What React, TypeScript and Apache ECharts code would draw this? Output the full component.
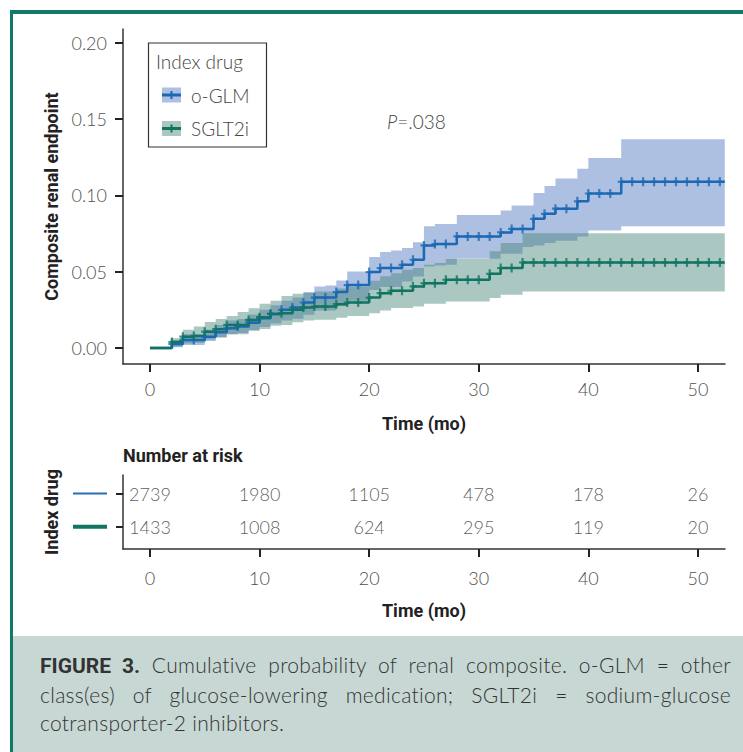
import React, { useEffect, useRef } from "react";
import * as echarts from "echarts";

// ---------- data ----------
const monthTicks = [0, 10, 20, 30, 40, 50];
const probTicks = [0, 0.05, 0.1, 0.15, 0.2];

// o-GLM cumulative probability (step times in months)
const blueTimes = [0, 2, 3, 5, 6, 7, 8, 9, 10, 11, 12, 13, 14, 15, 17, 18, 20, 21, 23, 24, 25, 26, 28, 32, 33, 35, 36, 37, 39, 40, 43];
const blueValues = [0, 0.0026, 0.0053, 0.0074, 0.0103, 0.0129, 0.014, 0.0166, 0.0195, 0.0223, 0.025, 0.0265, 0.0298, 0.033, 0.0366, 0.0412, 0.0497, 0.0524, 0.0545, 0.0578, 0.0672, 0.0681, 0.0731, 0.0757, 0.078, 0.0846, 0.0879, 0.0913, 0.0961, 0.1012, 0.1089];

// SGLT2i
const greenTimes = [0, 2, 3, 4, 5, 6, 7, 9, 10, 11, 12, 13, 14, 15, 17, 18, 20, 21, 22, 24, 25, 27, 31, 32, 34];
const greenValues = [0, 0.0039, 0.0074, 0.0079, 0.0107, 0.0123, 0.0151, 0.0184, 0.0202, 0.0223, 0.0228, 0.025, 0.0265, 0.0271, 0.0287, 0.0298, 0.033, 0.0359, 0.0375, 0.0403, 0.0424, 0.0447, 0.0486, 0.0524, 0.056];

// confidence bands (step functions)
const blueBandTimes = [0, 2, 3, 5, 6, 7, 8, 9, 10, 11, 12, 13, 14, 15, 16, 17, 18, 20, 21, 22, 23, 24, 25, 26, 27, 28, 31, 32, 33, 34, 35, 36, 37, 39, 40, 43];
const blueUpper = [0, 0.005, 0.009, 0.012, 0.015, 0.018, 0.019, 0.022, 0.025, 0.028, 0.031, 0.033, 0.0366, 0.0403, 0.041, 0.0442, 0.0501, 0.0596, 0.0629, 0.0639, 0.0655, 0.0692, 0.0797, 0.0813, 0.0813, 0.0872, 0.0872, 0.09, 0.0933, 0.0933, 0.1016, 0.1062, 0.111, 0.1174, 0.1244, 0.1367];
const blueLower = [0, 0.0005, 0.002, 0.0045, 0.0068, 0.009, 0.0098, 0.0115, 0.0138, 0.016, 0.018, 0.0192, 0.0218, 0.0245, 0.0245, 0.0275, 0.031, 0.038, 0.04, 0.04, 0.0436, 0.0469, 0.0534, 0.054, 0.0545, 0.0585, 0.0585, 0.0618, 0.0618, 0.0662, 0.0672, 0.0688, 0.0703, 0.0731, 0.0769, 0.0797];

const greenBandTimes = [0, 2, 3, 4, 5, 6, 7, 8, 9, 10, 11, 12, 13, 14, 15, 17, 18, 20, 21, 22, 23, 24, 25, 26, 27, 31, 32, 34];
const greenUpper = [0, 0.0064, 0.012, 0.014, 0.017, 0.019, 0.021, 0.0235, 0.026, 0.029, 0.0309, 0.034, 0.0355, 0.036, 0.037, 0.039, 0.04, 0.044, 0.047, 0.049, 0.0512, 0.0524, 0.0545, 0.0556, 0.0583, 0.0633, 0.0688, 0.0752];
const greenLower = [0, 0.001, 0.003, 0.0035, 0.0055, 0.007, 0.009, 0.009, 0.0115, 0.0125, 0.0145, 0.015, 0.0168, 0.018, 0.0185, 0.0198, 0.021, 0.0228, 0.0245, 0.0262, 0.0262, 0.0272, 0.029, 0.029, 0.0305, 0.0327, 0.0348, 0.037];

// censoring marks (months)
const censorTimes = [2, 3, 4, 5, 6, 7, 8, 9, 10, 11, 12, 13, 14, 15, 16, 17, 18, 19, 20, 21, 22, 23, 24, 25, 26, 27, 28, 29, 30, 31, 32, 33, 34, 35, 36, 37, 38, 39, 40, 41, 42, 43, 44, 45, 46, 47, 48, 49, 50, 51, 52];

const followUpEnd = 52.45;

// number at risk
const riskMonths = [0, 10, 20, 30, 40, 50];
const riskBlue = [2739, 1980, 1105, 478, 178, 26];
const riskGreen = [1433, 1008, 624, 295, 119, 20];

// ---------- style ----------
const BLUE = "#1b69b4";
const GREEN = "#0f7560";
const BLUE_BAND = "rgba(73,115,188,0.45)";
const GREEN_BAND = "rgba(66,131,117,0.45)";
const LIGHT = 'Lato, "Open Sans", sans-serif';
const BOLD = 'Roboto, "DejaVu Sans", sans-serif';
const AXIS = "#333";
const LABEL = "#505050";
const BLUE_ROW = 3;
const GREEN_ROW = 1.2;

const PLUS = "path://M-1.1,-4.5H1.1V-1.1H3.5V1.1H1.1V4.5H-1.1V1.1H-3.5V-1.1H-1.1Z";

function valueAt(times: number[], vals: number[], t: number) {
  let v = vals[0];
  for (let i = 0; i < times.length; i++) if (times[i] <= t + 1e-9) v = vals[i];
  return v;
}

function bandSeries(times: number[], lower: number[], upper: number[], color: string, z: number) {
  return {
    type: "custom",
    xAxisIndex: 0,
    yAxisIndex: 0,
    z,
    silent: true,
    clip: true,
    data: [[0, 0]],
    renderItem: (_p: any, api: any) => {
      const pts: number[][] = [];
      for (let i = 0; i < times.length; i++) {
        const t1 = i + 1 < times.length ? times[i + 1] : followUpEnd;
        pts.push(api.coord([times[i], upper[i]]), api.coord([t1, upper[i]]));
      }
      for (let i = times.length - 1; i >= 0; i--) {
        const t1 = i + 1 < times.length ? times[i + 1] : followUpEnd;
        pts.push(api.coord([t1, lower[i]]), api.coord([times[i], lower[i]]));
      }
      return { type: "polygon", shape: { points: pts }, style: { fill: color } };
    },
  };
}

function stepLine(times: number[], vals: number[], color: string) {
  const data = times.map((t, i) => [t, vals[i]]);
  data.push([followUpEnd, vals[vals.length - 1]]);
  return {
    type: "line",
    step: "end",
    xAxisIndex: 0,
    yAxisIndex: 0,
    data,
    symbol: "none",
    showSymbol: false,
    lineStyle: { width: 2.5, color },
    itemStyle: { color },
    z: 3,
    silent: true,
  };
}

function marks(times: number[], vals: number[], color: string) {
  return {
    type: "scatter",
    xAxisIndex: 0,
    yAxisIndex: 0,
    data: censorTimes.map((t) => [t, valueAt(times, vals, t)]),
    symbol: PLUS,
    symbolSize: [7, 9],
    itemStyle: { color },
    z: 4,
    silent: true,
  };
}

function riskSeries(row: number, counts: number[]) {
  return {
    type: "scatter",
    xAxisIndex: 1,
    yAxisIndex: 1,
    data: riskMonths.map((m, i) => [m, row, counts[i]]),
    symbolSize: 1,
    itemStyle: { color: "transparent" },
    label: {
      show: true,
      position: "inside",
      formatter: (p: any) => String(p.data[2]),
      fontSize: 18,
      fontFamily: LIGHT,
      fontWeight: 300,
      color: "#333",
    },
    silent: true,
  };
}

const tickLabel = { fontSize: 18, fontFamily: LIGHT, fontWeight: 300, color: LABEL };
const titleStyle = { fontFamily: BOLD, fontWeight: "bold", fontSize: 18, color: "#222" };

function xAxis(gridIndex: number, margin: number, nameGap: number) {
  return {
    type: "value",
    gridIndex,
    min: -2.46,
    max: 52.47,
    axisLine: { show: true, onZero: false, lineStyle: { color: AXIS, width: 1.5 } },
    axisTick: { show: true, customValues: monthTicks, length: 8, lineStyle: { color: "#222", width: 2 } },
    axisLabel: { customValues: monthTicks, margin, ...tickLabel },
    splitLine: { show: false },
    name: "Time (mo)",
    nameLocation: "middle",
    nameGap,
    nameTextStyle: titleStyle,
  };
}

export default function App() {
  const ref = useRef<HTMLDivElement>(null);

  useEffect(() => {
    if (!ref.current) return;
    const chart = echarts.init(ref.current, null, { renderer: "svg" });
    const option: any = {
      animation: false,
      grid: [
        { left: 123, top: 29, width: 602, height: 335 },
        { left: 123, top: 475, width: 602, height: 74 },
      ],
      xAxis: [xAxis(0, 16, 50), xAxis(1, 20, 52)],
      yAxis: [
        {
          type: "value",
          gridIndex: 0,
          min: -0.0105,
          max: 0.209,
          axisLine: { show: true, onZero: false, lineStyle: { color: AXIS, width: 1.5 } },
          axisTick: { show: true, customValues: probTicks, length: 8, lineStyle: { color: "#222", width: 2 } },
          axisLabel: { customValues: probTicks, margin: 16, formatter: (v: number) => v.toFixed(2), ...tickLabel },
          splitLine: { show: false },
          name: "Composite renal endpoint",
          nameLocation: "middle",
          nameGap: 61,
          nameTextStyle: titleStyle,
        },
        {
          type: "value",
          gridIndex: 1,
          min: 0,
          max: 4,
          axisLine: { show: true, onZero: false, lineStyle: { color: AXIS, width: 1.5 } },
          axisTick: { show: true, customValues: [GREEN_ROW, BLUE_ROW], length: 7, lineStyle: { color: "#222", width: 2 } },
          axisLabel: {
            customValues: [GREEN_ROW, BLUE_ROW],
            margin: 16,
            formatter: (v: number) => (v === BLUE_ROW ? "{b| }" : "{g| }"),
            rich: {
              b: { width: 34, height: 2, backgroundColor: "#2a6db5" },
              g: { width: 34, height: 4, backgroundColor: GREEN },
            },
          },
          splitLine: { show: false },
          name: "Index drug",
          nameLocation: "middle",
          nameGap: 63,
          nameTextStyle: titleStyle,
        },
      ],
      graphic: [
        { type: "rect", shape: { x: 148.5, y: 43, width: 118, height: 104 }, style: { fill: "#fff", stroke: "#333", lineWidth: 1.2 }, z: 10 },
        { type: "text", x: 156, y: 61, style: { text: "Index drug", fontSize: 19, fontFamily: LIGHT, fontWeight: 300, fill: "#444", verticalAlign: "middle" }, z: 11 },
        { type: "rect", shape: { x: 162, y: 87.5, width: 19, height: 15 }, style: { fill: "#adc0e1" }, z: 11 },
        { type: "line", shape: { x1: 162, y1: 95, x2: 181, y2: 95 }, style: { stroke: BLUE, lineWidth: 3 }, z: 12 },
        { type: "line", shape: { x1: 171.5, y1: 91, x2: 171.5, y2: 99 }, style: { stroke: BLUE, lineWidth: 2 }, z: 12 },
        { type: "text", x: 191, y: 95, style: { text: "o-GLM", fontSize: 19, fontFamily: LIGHT, fontWeight: 300, fill: "#444", verticalAlign: "middle" }, z: 11 },
        { type: "rect", shape: { x: 162, y: 121, width: 19, height: 15 }, style: { fill: "#aac7c1" }, z: 11 },
        { type: "line", shape: { x1: 162, y1: 128.5, x2: 181, y2: 128.5 }, style: { stroke: GREEN, lineWidth: 3 }, z: 12 },
        { type: "line", shape: { x1: 171.5, y1: 124.5, x2: 171.5, y2: 132.5 }, style: { stroke: GREEN, lineWidth: 2 }, z: 12 },
        { type: "text", x: 191, y: 128.5, style: { text: "SGLT2i", fontSize: 19, fontFamily: LIGHT, fontWeight: 300, fill: "#444", verticalAlign: "middle" }, z: 11 },
        {
          type: "text",
          x: 387,
          y: 121,
          style: {
            text: "{i|P}{n|=.038}",
            verticalAlign: "middle",
            rich: {
              i: { fontStyle: "italic", fontSize: 19, fontFamily: LIGHT, fontWeight: 300, fill: "#444" },
              n: { fontSize: 19, fontFamily: LIGHT, fontWeight: 300, fill: "#444" },
            },
          },
          z: 11,
        },
        { type: "text", x: 123, y: 455, style: { text: "Number at risk", fontSize: 18, fontFamily: BOLD, fontWeight: "bold", fill: "#222", verticalAlign: "middle" }, z: 11 },
      ],
      series: [
        bandSeries(blueBandTimes, blueLower, blueUpper, BLUE_BAND, 1),
        bandSeries(greenBandTimes, greenLower, greenUpper, GREEN_BAND, 2),
        stepLine(blueTimes, blueValues, BLUE),
        stepLine(greenTimes, greenValues, GREEN),
        marks(blueTimes, blueValues, BLUE),
        marks(greenTimes, greenValues, GREEN),
        riskSeries(BLUE_ROW, riskBlue),
        riskSeries(GREEN_ROW, riskGreen),
      ],
    };
    chart.setOption(option);
    return () => chart.dispose();
  }, []);

  const justified: React.CSSProperties = { textAlign: "justify", textAlignLast: "justify" as any };

  return (
    <div style={{ position: "absolute", left: 0, top: 0, width: 743, height: 752, background: "#fff", overflow: "hidden" }}>
      <div ref={ref} style={{ position: "absolute", left: 0, top: 0, width: 743, height: 752 }} />
      <div style={{ position: "absolute", left: 9.5, top: 10, width: 734, height: 3.5, background: "#107a68" }} />
      <div style={{ position: "absolute", left: 9.5, top: 10, width: 3.5, height: 742, background: "#107a68" }} />
      <div
        style={{
          position: "absolute",
          left: 13,
          top: 636,
          right: 0,
          bottom: 0,
          background: "#c7d8d4",
          padding: "15px 12px 0 27px",
          fontFamily: LIGHT,
          fontWeight: 300,
          fontSize: 21,
          letterSpacing: "0.3px",
          lineHeight: "28.5px",
          color: "#333",
          boxSizing: "border-box",
        }}
      >
        <div style={justified}>
          <span style={{ fontFamily: BOLD, fontWeight: 700, letterSpacing: 0 }}>FIGURE 3.</span> Cumulative probability of renal composite. o-GLM = other
        </div>
        <div style={justified}>class(es) of glucose-lowering medication; SGLT2i = sodium-glucose</div>
        <div>cotransporter-2 inhibitors.</div>
      </div>
    </div>
  );
}
